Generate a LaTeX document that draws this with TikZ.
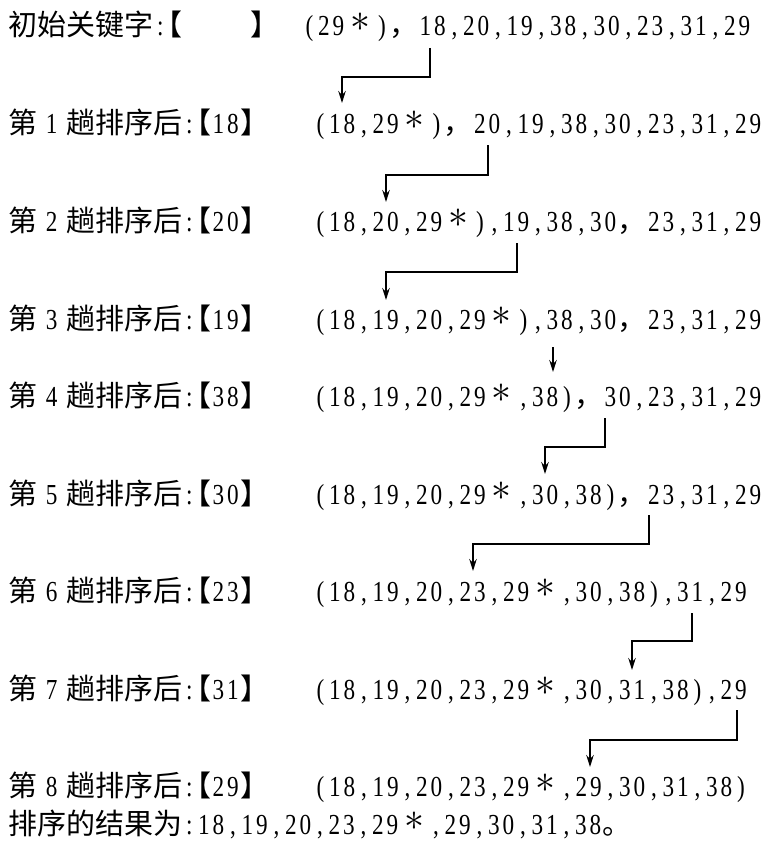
\documentclass[tikz,border=0pt]{standalone}
\usepackage{fontspec}
\usetikzlibrary{arrows.meta}
\newfontfamily\cjkf{Noto Sans CJK SC}
\newfontfamily\digf[FakeStretch=0.8]{Liberation Serif}
\newcommand\cj[1]{{\cjkf\fontsize{29}{32}\selectfont #1}}
\newcommand\cell[1]{\hbox to 14.5pt{\hss#1\hss}}
\def\monoend{\monoend}
\def\mono#1{\monoloop#1\monoend}
\def\monoloop#1{\ifx#1\monoend\else\cell{#1}\expandafter\monoloop\fi}
\newcommand\stx{\hbox to 29pt{\hss\smash{\raisebox{4pt}{\scalebox{1.6}{$\ast$}}}\hss}}
\newcommand\fc{\hbox to 29pt{\cj{，}\hss}}
\newcommand\lbr{\hbox to 14.5pt{\hss\cj{【}}}
\newcommand\rbr{\hbox to 14.5pt{\cj{】}\hss}}
\newcommand\hz[1]{\hbox to 29pt{\hss\cj{#1}\hss}}
\newcommand\pass[2]{\hz{第}\hbox to 29pt{\hss#1\hss}\hz{趟}\hz{排}\hz{序}\hz{后}\cell{:}\lbr\mono{#2}\rbr}
\tikzset{
  txt/.style={anchor=base west, inner sep=0pt, font=\digf\fontsize{29}{32}\selectfont},
  arr/.style={line width=1.3pt, -{Stealth[length=12pt,width=7.5pt]}}
}
\begin{document}
\begin{tikzpicture}[x=1pt,y=-1pt]
\useasboundingbox (0,0) rectangle (773,848);
% labels
\node[txt] (l0) at (8,36) {\hz{初}\hz{始}\hz{关}\hz{键}\hz{字}\cell{:}\lbr\hspace{68pt}\rbr};
\node[txt] (l1) at (8,133) {\pass{1}{18}};
\node[txt] (l2) at (8,231) {\pass{2}{20}};
\node[txt] (l3) at (8,329) {\pass{3}{19}};
\node[txt] (l4) at (8,406) {\pass{4}{38}};
\node[txt] (l5) at (8,504) {\pass{5}{30}};
\node[txt] (l6) at (8,601) {\pass{6}{23}};
\node[txt] (l7) at (8,699) {\pass{7}{31}};
\node[txt] (l8) at (8,796) {\pass{8}{29}};
% sequences
\node[txt] (r0) at (302,36) {\mono{(29}\stx\mono{)}\fc\mono{18,20,19,38,30,23,31,29}};
\node[txt] (r1) at (313,133) {\mono{(18,29}\stx\mono{)}\fc\mono{20,19,38,30,23,31,29}};
\node[txt] (r2) at (313,231) {\mono{(18,20,29}\stx\mono{),19,38,30}\fc\mono{23,31,29}};
\node[txt] (r3) at (313,329) {\mono{(18,19,20,29}\stx\mono{),38,30}\fc\mono{23,31,29}};
\node[txt] (r4) at (313,406) {\mono{(18,19,20,29}\stx\mono{,38)}\fc\mono{30,23,31,29}};
\node[txt] (r5) at (313,504) {\mono{(18,19,20,29}\stx\mono{,30,38)}\fc\mono{23,31,29}};
\node[txt] (r6) at (313,601) {\mono{(18,19,20,23,29}\stx\mono{,30,38),31,29}};
\node[txt] (r7) at (313,699) {\mono{(18,19,20,23,29}\stx\mono{,30,31,38),29}};
\node[txt] (r8) at (313,796) {\mono{(18,19,20,23,29}\stx\mono{,29,30,31,38)}};
\node[txt] (res) at (8,834) {\hz{排}\hz{序}\hz{的}\hz{结}\hz{果}\hz{为}\cell{:}\mono{18,19,20,23,29}\stx\mono{,29,30,31,38}\hbox to 29pt{\cj{。}\hss}};
% arrow anchor points
\coordinate (s0) at (430,48);  \coordinate (e0) at (342,103);
\coordinate (s1) at (488,145); \coordinate (e1) at (386,202);
\coordinate (s2) at (517,243); \coordinate (e2) at (386,300);
\coordinate (s3) at (553,347); \coordinate (e3) at (553,372);
\coordinate (s4) at (605,418); \coordinate (e4) at (545,474);
\coordinate (s5) at (649,515); \coordinate (e5) at (473,571);
\coordinate (s6) at (692,613); \coordinate (e6) at (632,670);
\coordinate (s7) at (737,710); \coordinate (e7) at (590,767);
\draw[arr] (s0) -- ++(0,29) -| (e0);
\draw[arr] (s1) -- ++(0,30) -| (e1);
\draw[arr] (s2) -- ++(0,29) -| (e2);
\draw[arr] (s3) -- (e3);
\draw[arr] (s4) -- ++(0,29) -| (e4);
\draw[arr] (s5) -- ++(0,29) -| (e5);
\draw[arr] (s6) -- ++(0,28) -| (e6);
\draw[arr] (s7) -- ++(0,30) -| (e7);
\end{tikzpicture}
\end{document}
